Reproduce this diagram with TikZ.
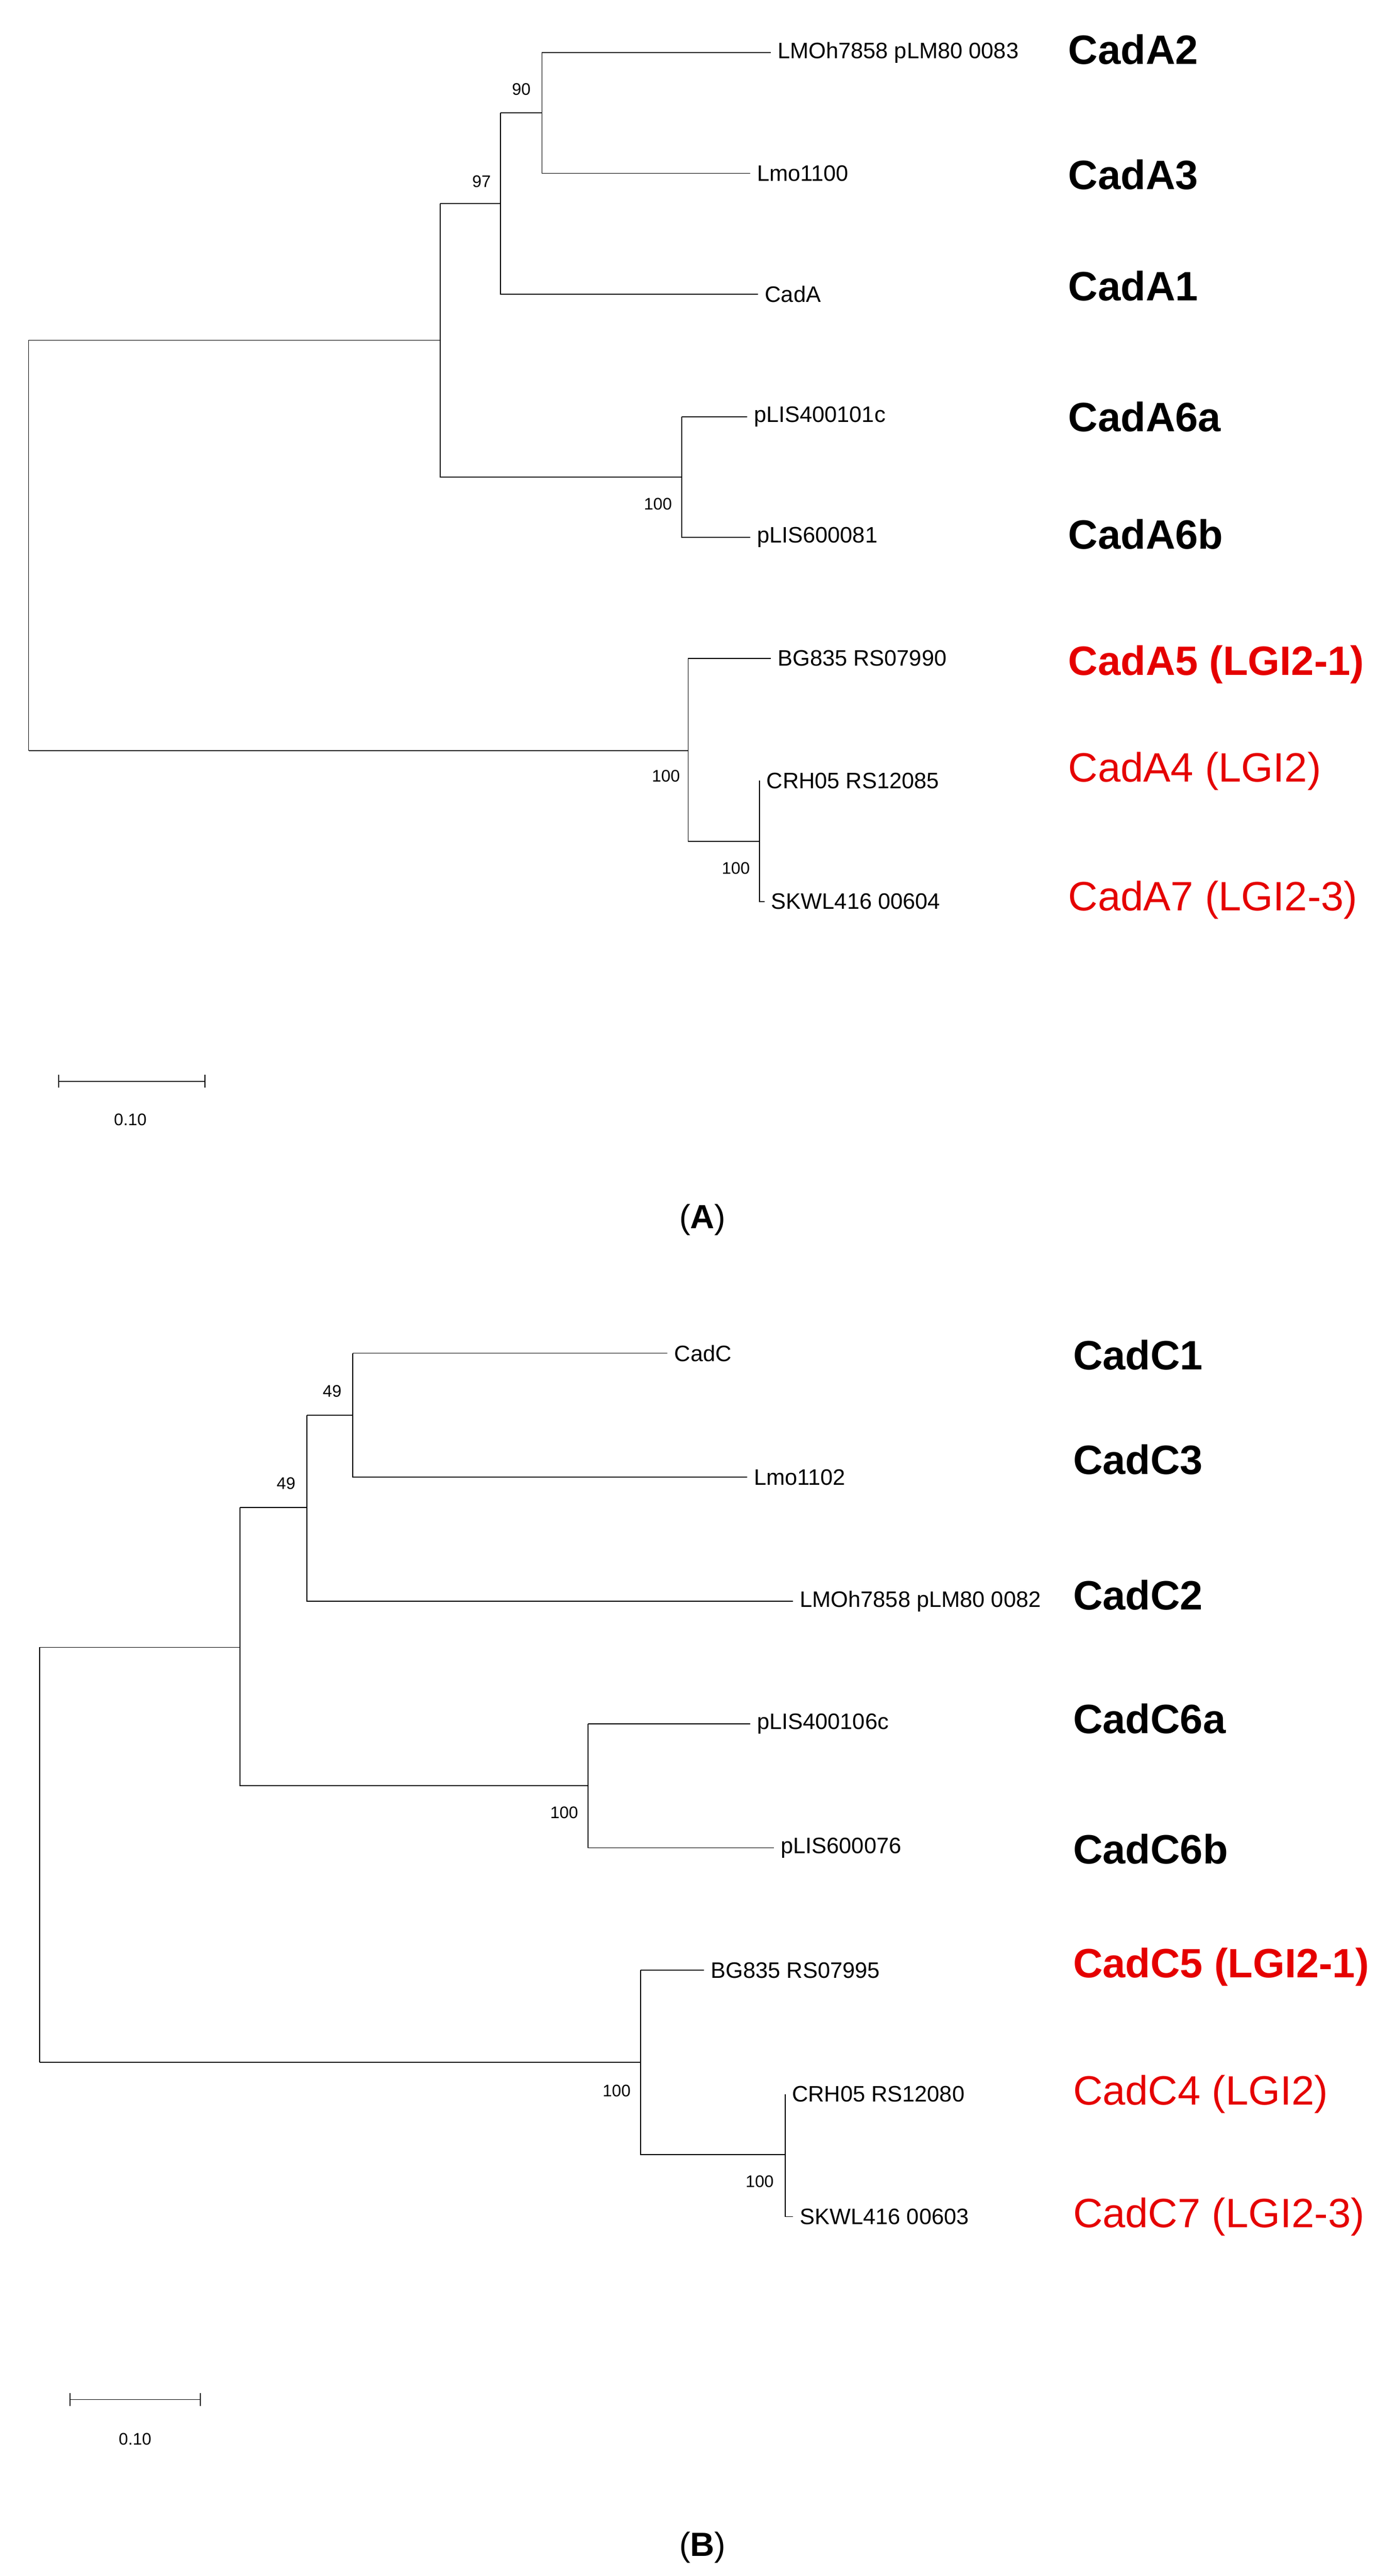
\documentclass[tikz,border=0pt]{standalone}
\usepackage{fontspec}
\setmainfont{Liberation Sans}
\usepackage{tikz}
\usetikzlibrary{calc}
\definecolor{cadred}{rgb}{.9,0,0}

\begin{document}
\begin{tikzpicture}[x=0.03cm,y=-0.03cm,
    leaf/.style={anchor=west,inner sep=3.5pt,font=\fontsize{12}{13}\selectfont},
    boot/.style={inner sep=0pt,font=\fontsize{9}{10}\selectfont},
    gene/.style={anchor=west,inner sep=0pt,font=\fontsize{22}{24}\selectfont\bfseries},
    lgi/.style={anchor=west,inner sep=0pt,text=cadred,font=\fontsize{22}{24}\selectfont},
    branch/.style={line width=0.5pt}]
    \useasboundingbox (0,0) rectangle (868,1620);

    % ---- tree A ----
    \coordinate (rA) at (18,214);
    \coordinate (nA1) at (277,214);   % top clade
    \coordinate (nA2) at (433,472);   % LGI2 clade
    \coordinate (nA3) at (315,128);
    \coordinate (nA4) at (429,300);
    \coordinate (nA5) at (341,71);
    \coordinate (nA6) at (478,529);

    \node[leaf] (a1) at (485,33) {LMOh7858 pLM80 0083};
    \node[leaf] (a2) at (472,109) {Lmo1100};
    \node[leaf] (a3) at (477,185) {CadA};
    \node[leaf] (a4) at (470,262) {pLIS400101c};
    \node[leaf] (a5) at (472,338) {pLIS600081};
    \node[leaf] (a6) at (485,414) {BG835 RS07990};
    \node[leaf] (a7) at (478,491) {CRH05 RS12085};
    \node[leaf] (a8) at (481,567) {SKWL416 00604};

    \draw[branch] (rA |- nA2) -- (nA2) (rA |- nA2) -- (rA) -- (nA1);
    \draw[branch] (nA1 |- nA3) -- (nA3) (nA1 |- nA3) -- (nA1 |- nA4) -- (nA4);
    \draw[branch] (nA3 |- nA5) -- (nA5) (nA3 |- nA5) -- (nA3 |- a3) -- (a3.west);
    \draw[branch] (nA5 |- a1) -- (a1.west) (nA5 |- a1) -- (nA5 |- a2) -- (a2.west);
    \draw[branch] (nA4 |- a4) -- (a4.west) (nA4 |- a4) -- (nA4 |- a5) -- (a5.west);
    \draw[branch] (nA2 |- a6) -- (a6.west) (nA2 |- a6) -- (nA2 |- nA6) -- (nA6);
    \draw[branch] (nA6 |- a7) -- (nA6 |- a8) -- (a8.west);

    \node[boot] at (328,56) {90};
    \node[boot] at (303,114) {97};
    \node[boot] at (414,317) {100};
    \node[boot] at (419,488) {100};
    \node[boot] at (463,546) {100};

    \node[gene] at (672,31) {CadA2};
    \node[gene] at (672,110) {CadA3};
    \node[gene] at (672,180) {CadA1};
    \node[gene] at (672,262) {CadA6a};
    \node[gene] at (672,336) {CadA6b};
    \node[gene,text=cadred] at (672,418) {CadA5 (LGI2-1)};
    \node[lgi] at (672,485) {CadA4 (LGI2)};
    \node[lgi] at (672,566) {CadA7 (LGI2-3)};

    \draw[branch] (37,680) -- (129,680) (37,676) -- (37,684) (129,676) -- (129,684);
    \node[boot] at (82,704) {0.10};
    \node[font=\fontsize{18}{20}\selectfont\rmfamily] at (442,767) {(\textbf{A})};

    % ---- tree B ----
    \coordinate (rB) at (25,1036);
    \coordinate (nB1) at (151,1036);
    \coordinate (nB2) at (403,1297);
    \coordinate (nB3) at (193,948);
    \coordinate (nB4) at (370,1123);
    \coordinate (nB5) at (222,890);
    \coordinate (nB6) at (494,1355);

    \node[leaf] (b1) at (420,851) {CadC};
    \node[leaf] (b2) at (470,929) {Lmo1102};
    \node[leaf] (b3) at (499,1007) {LMOh7858 pLM80 0082};
    \node[leaf] (b4) at (472,1084) {pLIS400106c};
    \node[leaf] (b5) at (487,1162) {pLIS600076};
    \node[leaf] (b6) at (443,1239) {BG835 RS07995};
    \node[leaf] (b7) at (494,1317) {CRH05 RS12080};
    \node[leaf] (b8) at (499,1394) {SKWL416 00603};

    \draw[branch] (rB |- nB2) -- (nB2) (rB |- nB2) -- (rB) -- (nB1);
    \draw[branch] (nB1 |- nB3) -- (nB3) (nB1 |- nB3) -- (nB1 |- nB4) -- (nB4);
    \draw[branch] (nB3 |- nB5) -- (nB5) (nB3 |- nB5) -- (nB3 |- b3) -- (b3.west);
    \draw[branch] (nB5 |- b1) -- (b1.west) (nB5 |- b1) -- (nB5 |- b2) -- (b2.west);
    \draw[branch] (nB4 |- b4) -- (b4.west) (nB4 |- b4) -- (nB4 |- b5) -- (b5.west);
    \draw[branch] (nB2 |- b6) -- (b6.west) (nB2 |- b6) -- (nB2 |- nB6) -- (nB6);
    \draw[branch] (nB6 |- b7) -- (nB6 |- b8) -- (b8.west);

    \node[boot] at (209,875) {49};
    \node[boot] at (180,933) {49};
    \node[boot] at (355,1140) {100};
    \node[boot] at (388,1315) {100};
    \node[boot] at (478,1372) {100};

    \node[gene] at (675,852) {CadC1};
    \node[gene] at (675,918) {CadC3};
    \node[gene] at (675,1003) {CadC2};
    \node[gene] at (675,1081) {CadC6a};
    \node[gene] at (675,1163) {CadC6b};
    \node[gene,text=cadred] at (675,1237) {CadC5 (LGI2-1)};
    \node[lgi] at (675,1317) {CadC4 (LGI2)};
    \node[lgi] at (675,1394) {CadC7 (LGI2-3)};

    \draw[branch] (44,1509) -- (126,1509) (44,1505) -- (44,1513) (126,1505) -- (126,1513);
    \node[boot] at (85,1534) {0.10};
    \node[font=\fontsize{18}{20}\selectfont\rmfamily] at (442,1602) {(\textbf{B})};
\end{tikzpicture}
\end{document}
